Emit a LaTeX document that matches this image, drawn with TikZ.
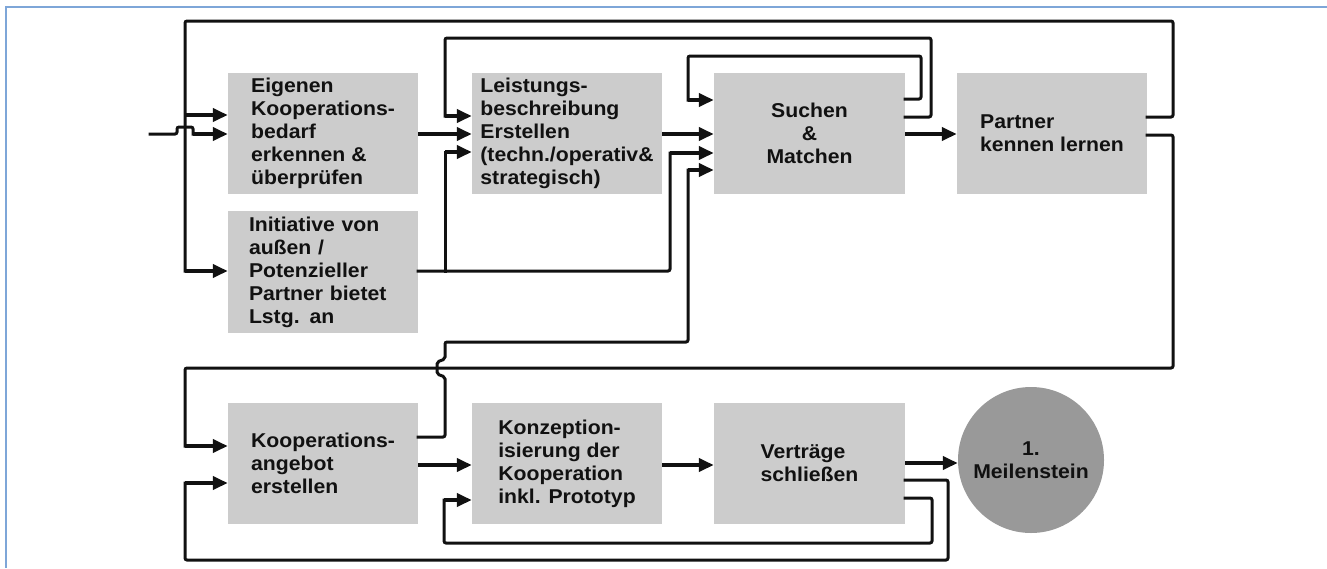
\documentclass[tikz,border=0pt]{standalone}
\usepackage{fontspec}
\setmainfont[FakeStretch=1.06]{Liberation Sans}
\usetikzlibrary{arrows.meta}
\definecolor{boxgray}{HTML}{CCCCCC}
\definecolor{milegray}{HTML}{999999}
\definecolor{rimblue}{HTML}{7EA6D8}
\definecolor{ink}{HTML}{111111}

\begin{document}
\begin{tikzpicture}[x=1pt,y=-1pt,
  >={Triangle[length=15pt,width=13pt]},
  txt/.style={font=\bfseries\fontsize{20}{23}\selectfont, text=ink},
  stepbox/.style={rectangle, fill=boxgray, minimum width=190pt, minimum height=121pt,
                  inner sep=0pt, align=left, txt},
  mile/.style={circle, fill=milegray, minimum size=146pt, inner sep=0pt, align=center, txt},
  flow/.style={draw=ink, line width=4.5pt, ->},
  wire/.style={draw=ink, line width=3pt, rounded corners=2pt, line cap=rect},
  rim/.style={draw=rimblue, line width=1.5pt}]

\useasboundingbox (0,0) rectangle (1327,568);
\draw[rim] (1327,7) -- (6,7) -- (6,568);

% process steps
\node[stepbox] (b1) at (323,133.5) {Eigenen\\Kooperations-\\bedarf\\erkennen \&\\überprüfen};
\node[stepbox, minimum height=122pt, text width=148pt, inner xsep=21pt] (b2) at (323,272) {Initiative von\\außen /\\Potenzieller\\Partner bietet\\Lstg. an};
\node[stepbox] (b3) at (567,133.5) {Leistungs-\\beschreibung\\Erstellen\\(techn./operativ\&\\strategisch)};
\node[stepbox, minimum width=191pt, align=center] (b4) at (809.5,133.5) {Suchen\\\&\\Matchen};
\node[stepbox] (b5) at (1052,133.5) {Partner\\kennen lernen};
\node[stepbox] (b6) at (323,463.5) {Kooperations-\\angebot\\erstellen};
\node[stepbox] (b7) at (567,463.5) {Konzeption-\\isierung der\\Kooperation\\inkl. Prototyp};
\node[stepbox, minimum width=191pt] (b8) at (809.5,463.5) {Verträge\\schließen};
\node[mile] (ms) at (1031,460) {1.\\Meilenstein};

% entry with a hop over the return line
\coordinate (start) at (150,134);
\draw[wire] (start) -- (177,134) -- (177,127) -- (193,127) -- (193,134);
\draw[flow] (193,134) -- (b1.west |- 0,134);

% return from "Partner kennen lernen" to the start
\draw[wire] (b5.east |- 0,117) -- (1173,117) -- (1173,21) -- (185,21) -- (185,271);
\draw[flow] (185,115) -- (b1.west |- 0,115);
\draw[flow] (185,271) -- (b2.west |- 0,271);

% first row forward flow
\draw[flow] (b1.east |- 0,134) -- (b3.west |- 0,134);
\draw[flow] (b3.east |- 0,134) -- (b4.west |- 0,134);
\draw[flow] (b4.east |- 0,134) -- (b5.west |- 0,134);

% external initiative
\draw[wire] (b2.east |- 0,271) -- (670,271) -- (670,153);
\draw[flow] (670,153) -- (b4.west |- 0,153);
\draw[wire] (445,271) -- (445,152);
\draw[flow] (445,152) -- (b3.west |- 0,152);

% loops around "Suchen & Matchen"
\draw[wire] (b4.east |- 0,117) -- (931,117) -- (931,38) -- (445,38) -- (445,116);
\draw[flow] (445,116) -- (b3.west |- 0,116);
\draw[wire] (b4.east |- 0,99) -- (921,99) -- (921,56) -- (688,56) -- (688,100);
\draw[flow] (688,100) -- (b4.west |- 0,100);

% down to the second row
\draw[wire] (b5.east |- 0,135) -- (1173,135) -- (1173,368) -- (185,368) -- (185,446);
\draw[flow] (185,446) -- (b6.west |- 0,446);

% offer back to search, hopping over the line above
\draw[wire] (b6.east |- 0,437) -- (445,437) -- (445,377) -- (437,374) -- (437,362) -- (445,359)
            -- (445,342) -- (688,342) -- (688,170);
\draw[flow] (688,170) -- (b4.west |- 0,170);

% second row forward flow
\draw[flow] (b6.east |- 0,465) -- (b7.west |- 0,465);
\draw[flow] (b7.east |- 0,465) -- (b8.west |- 0,465);
\draw[flow] (b8.east |- 0,463) -- (ms.west |- 0,463);

% returns from "Verträge schließen"
\draw[wire] (b8.east |- 0,480) -- (948,480) -- (948,560) -- (185,560) -- (185,483);
\draw[flow] (185,483) -- (b6.west |- 0,483);
\draw[wire] (b8.east |- 0,498) -- (932,498) -- (932,543) -- (444,543) -- (444,500);
\draw[flow] (444,500) -- (b7.west |- 0,500);

\end{tikzpicture}
\end{document}
